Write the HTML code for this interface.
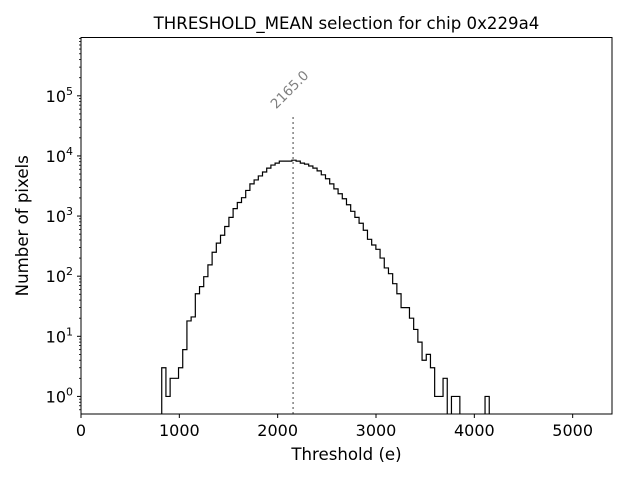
<!DOCTYPE html>
<html><head><meta charset="utf-8"><style>
body{margin:0;background:#fff;}
svg text{font-family:"DejaVu Sans","Liberation Sans",sans-serif;}
</style></head><body>
<svg id="chart" width="640" height="480" xmlns="http://www.w3.org/2000/svg"></svg>
<script>
const binStart = 821;
const binWidth = 42.7;
const counts = [3,1,2,2,3,6,18,21,51,67,98,154,250,355,480,670,950,1330,1680,2020,2670,3430,3990,4650,5400,6270,7050,7600,8200,8200,8200,
8500,8200,7600,7300,6800,6270,5650,4850,4170,3430,2830,2350,1940,1540,1200,950,760,580,410,330,280,200,137,110,75,51,30,30,20,13,8,4,5,3,1,1,2,0,1,1,0,0,0,0,0,0,1];
const xTicks = [0,1000,2000,3000,4000,5000];
const yTickExps = [0,1,2,3,4,5];
const thresholdValue = 2165.0;
const thresholdTop = 47000;

const NS="http://www.w3.org/2000/svg";
const svg=document.getElementById('chart');
const L=81,R=612,T=37.5,B=414;
const xMin=0,xMax=5400;
const yMinLog=Math.log10(0.51), yMaxLog=5.97;
function xs(v){return L+(v-xMin)/(xMax-xMin)*(R-L);}
function ys(v){return B-(Math.log10(v)-yMinLog)/(yMaxLog-yMinLog)*(B-T);}
function mk(tag,attrs,parent){const e=document.createElementNS(NS,tag);for(const k in attrs)e.setAttribute(k,attrs[k]);(parent||svg).appendChild(e);return e;}

const defs=mk('defs',{});
const cp=mk('clipPath',{id:'plotclip'},defs);
mk('rect',{x:L,y:T,width:R-L,height:B-T},cp);

let d='';
const bottomY=B+5;
counts.forEach((c,i)=>{
  const x0=xs(binStart+i*binWidth), x1=xs(binStart+(i+1)*binWidth);
  const y=c>0?ys(c):bottomY;
  if(i===0) d+='M'+x0+','+bottomY+' ';
  d+='L'+x0+','+y+' L'+x1+','+y+' ';
});
d+='L'+xs(binStart+counts.length*binWidth)+','+bottomY;
const hist=mk('path',{d:d,fill:'none',stroke:'#000','stroke-width':1.2,'clip-path':'url(#plotclip)'});



const tx=xs(thresholdValue)-0.8;
const tl=mk('line',{x1:tx,x2:tx,y1:B,y2:ys(thresholdTop),stroke:'#808080','stroke-width':1.5,'stroke-dasharray':'2,3'});


const lx=tx-17, ly=ys(thresholdTop)-6;
const tt=mk('text',{x:lx,y:ly,'font-size':13.5,fill:'#808080',transform:'rotate(-45 '+lx+' '+ly+')'});
tt.textContent=thresholdValue.toFixed(1);



const fr=mk('rect',{x:L,y:T,width:R-L,height:B-T,fill:'none',stroke:'#000','stroke-width':1});



xTicks.forEach(v=>{
  const x=xs(v);
  const t=mk('line',{x1:x,x2:x,y1:B,y2:B+4,stroke:'#000'});
  
  
  const lb=mk('text',{x:x,y:B+22,'font-size':16,'text-anchor':'middle'});
  lb.textContent=v;
  
  
});
yTickExps.forEach(e=>{
  const y=ys(Math.pow(10,e));
  const t=mk('line',{x1:L-4,x2:L,y1:y,y2:y,stroke:'#000'});
  
  
  const lb=mk('text',{x:L-8,y:y+6,'font-size':16,'text-anchor':'end'});
  lb.innerHTML='10<tspan dy="-7" font-size="11">'+e+'</tspan>';
  
  
});
for(let e=-1;e<=5;e++){for(let m=2;m<=9;m++){const v=m*Math.pow(10,e);const lv=Math.log10(v);if(lv<yMinLog||lv>yMaxLog)continue;const y=ys(v);
  const t=mk('line',{x1:L-2,x2:L,y1:y,y2:y,stroke:'#000','stroke-width':0.8});
  
  }}

const title=mk('text',{x:(L+R)/2,y:29,'font-size':16.6,'text-anchor':'middle'});
title.textContent='THRESHOLD_MEAN selection for chip 0x229a4';


const xl=mk('text',{x:(L+R)/2,y:460,'font-size':16.6,'text-anchor':'middle'});
xl.textContent='Threshold (e)';


const yl=mk('text',{x:28,y:(T+B)/2,'font-size':16.6,'text-anchor':'middle',transform:'rotate(-90 28 '+((T+B)/2)+')'});
yl.textContent='Number of pixels';


</script>
</body></html>
